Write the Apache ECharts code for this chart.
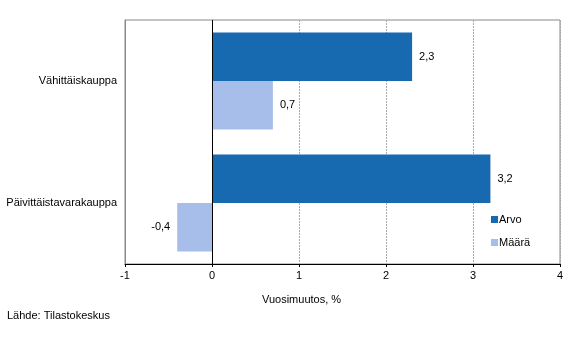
<!DOCTYPE html>
<html><head><meta charset="utf-8">
<script src="https://cdn.jsdelivr.net/npm/echarts@6/dist/echarts.min.js"></script>
<style>html,body{margin:0;padding:0;background:#fff}#c{width:573px;height:358px}</style>
</head><body><div id="c"></div>
<script>
const categories = ['Vähittäiskauppa', 'Päivittäistavarakauppa'];
const arvo = [2.3, 3.2];
const maara = [0.7, -0.4];
const xTicks = [-1, 0, 1, 2, 3, 4];
const seriesNames = ['Arvo', 'Määrä'];
const axisTitle = 'Vuosimuutos, %';
const sourceText = 'Lähde: Tilastokeskus';

const FONT = '"Liberation Sans", Arial, sans-serif';
const fmt = v => String(v).replace('.', ',');
const chart = echarts.init(document.getElementById('c'));
chart.setOption({
  animation: false,
  textStyle: { fontFamily: FONT, color: '#000' },
  grid: { left: 125, right: 13, top: 20, bottom: 94, show: true, borderColor: '#888', borderWidth: 1 },
  legend: {
    orient: 'vertical', left: 486, top: 209, itemWidth: 7, itemHeight: 7, itemGap: 12,
    icon: 'rect', textStyle: { fontFamily: FONT, fontSize: 11, color: '#000', padding: [0, 0, 0, -4] },
    data: seriesNames
  },
  xAxis: {
    type: 'value', min: xTicks[0], max: xTicks[xTicks.length - 1], interval: 1,
    axisLine: { show: true, onZero: false, lineStyle: { color: '#000', width: 1 } },
    axisTick: { show: true, length: 3, lineStyle: { color: '#000' } },
    axisLabel: { fontFamily: FONT, fontSize: 11, color: '#000', margin: 6 },
    splitLine: { show: true, lineStyle: { color: '#aaa', type: [2, 1], width: 1 } }
  },
  yAxis: {
    type: 'category', data: categories, inverse: true,
    axisLine: { show: true, onZero: false, lineStyle: { color: '#888' } },
    axisTick: { show: false },
    axisLabel: { fontFamily: FONT, fontSize: 11, color: '#000', margin: 8 }
  },
  graphic: [
    { type: 'text', left: 262, top: 294, style: { text: axisTitle, font: '11px ' + FONT, fill: '#000' } },
    { type: 'text', left: 7, top: 310, style: { text: sourceText, font: '11px ' + FONT, fill: '#000' } }
  ],
  series: [
    {
      name: seriesNames[0], type: 'bar', data: arvo, barGap: '0%', barCategoryGap: '20.5%',
      itemStyle: { color: '#1769b0' },
      label: { show: true, position: 'right', distance: 7, fontFamily: FONT, fontSize: 11, color: '#000', formatter: p => fmt(p.value) },
      markLine: {
        silent: true, symbol: 'none', label: { show: false },
        lineStyle: { color: '#000', type: 'solid', width: 1 },
        data: [{ xAxis: 0 }]
      }
    },
    {
      name: seriesNames[1], type: 'bar',
      data: maara.map(v => v < 0 ? { value: v, label: { position: 'left' } } : v),
      itemStyle: { color: '#a7beea' },
      label: { show: true, position: 'right', distance: 7, fontFamily: FONT, fontSize: 11, color: '#000',
        formatter: p => fmt(p.value) }
    }
  ]
});
</script></body></html>
